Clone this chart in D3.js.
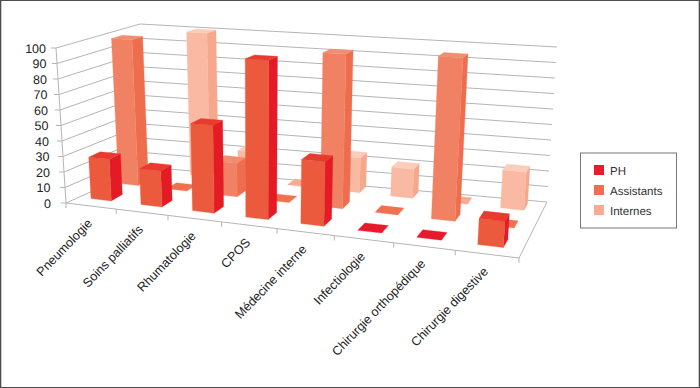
<!DOCTYPE html>
<html lang="en">
<head>
  <meta charset="UTF-8">
  <title>Répartition par service</title>
  <style>
    html, body { margin: 0; padding: 0; background: #fff; }
    svg { display: block; font-family: "Liberation Sans", sans-serif; text-rendering: geometricPrecision; }
  </style>
</head>
<body>
<div id="chart"></div>
<script src="https://d3js.org/d3.v7.min.js"></script>
<script>
  const categories = ['Pneumologie', 'Soins palliatifs', 'Rhumatologie', 'CPOS', 'Médecine interne', 'Infectiologie', 'Chirurgie orthopédique', 'Chirurgie digestive'];
  const seriesNames = ['PH', 'Assistants', 'Internes'];
  const ph = [27, 23, 55, 98, 39, 0, 0, 15];
  const assistants = [99, 0, 22, 0, 98, 0, 100, 0];
  const internes = [0, 100, 20, 0, 23, 19, 0, 24];
  const yTicks = [0, 10, 20, 30, 40, 50, 60, 70, 80, 90, 100];

  const width = 700, height = 388;

  // faces: front, side, top, flat (value 0)
  const colors = {
    PH: ['#eb5a3d', '#e41b25', '#e93a2f', '#e61a2b'],
    Assistants: ['#f08263', '#ee6d4f', '#f18d70', '#f0714f'],
    Internes: ['#f9b9a2', '#f6a78c', '#fbcdbb', '#f8ab92']
  };
  const legendColors = ['#e81d2b', '#ef6f51', '#f8ab92'];

  // corners of the box in the picture: front left, front right, back right, back left
  // (back left of the bars' floor sits a bit higher than the drawn wall, it gives the right spacing)
  const floorQuad = [[66, 203], [519, 258], [547, 202], [146, 160]];
  const topQuad = [[56, 48], [530, 78], [557, 47], [140, 24]];
  const wallBackLeft = [146, 167];

  function quadMap(q) {
    const [[x0, y0], [x1, y1], [x2, y2], [x3, y3]] = q;
    const dx1 = x1 - x2, dx2 = x3 - x2, sx = x0 - x1 + x2 - x3;
    const dy1 = y1 - y2, dy2 = y3 - y2, sy = y0 - y1 + y2 - y3;
    const den = dx1 * dy2 - dx2 * dy1;
    const g = (sx * dy2 - dx2 * sy) / den;
    const h = (dx1 * sy - sx * dy1) / den;
    const a = x1 - x0 + g * x1, b = x3 - x0 + h * x3;
    const d = y1 - y0 + g * y1, e = y3 - y0 + h * y3;
    return (u, v) => {
      const w = g * u + h * v + 1;
      return [(a * u + b * v + x0) / w, (d * u + e * v + y0) / w];
    };
  }
  const onFloor = quadMap(floorQuad);
  const onTop = quadMap(topQuad);

  const uScale = d3.scaleBand().domain(categories).range([0, 1]);
  const vScale = d3.scaleBand().domain(seriesNames).range([0, 1]);
  const hScale = d3.scaleLinear().domain([0, 100]).range([0, 1]);
  const labelGap = d3.scaleLinear().domain([0, 100]).range([15, 10]);

  function lerp(a, b, k) {
    return [a[0] + (b[0] - a[0]) * k, a[1] + (b[1] - a[1]) * k];
  }
  function project(u, v, val) {
    return lerp(onFloor(u, v), onTop(u, v), hScale(val));
  }
  function backLeft(val) {
    return lerp(wallBackLeft, topQuad[3], hScale(val));
  }

  const svg = d3.select('#chart').append('svg')
    .attr('width', width)
    .attr('height', height);

  svg.append('rect').attr('width', width).attr('height', height).attr('fill', '#fff');

  // picture frame
  const frame = svg.append('g').attr('fill', '#4d4d4d');
  frame.append('rect').attr('width', width).attr('height', 1);
  frame.append('rect').attr('width', 1.3).attr('height', height);
  frame.append('rect').attr('y', 387).attr('width', width).attr('height', 1);
  frame.append('rect').attr('x', 698.7).attr('width', 1.3).attr('height', height);

  const line = d3.line();
  const grid = svg.append('g').attr('fill', 'none').attr('stroke', '#b5b5b5').attr('stroke-width', 1);

  // walls and grid
  yTicks.forEach(t => {
    grid.append('path').attr('d', line([project(0, 0, t), backLeft(t), project(1, 1, t)]));
    const p = project(0, 0, t);
    grid.append('path').attr('d', line([[p[0] - 5, p[1]], p]));
    svg.append('text')
      .attr('x', p[0] - labelGap(t))
      .attr('y', p[1] + 4.5)
      .attr('text-anchor', 'end')
      .attr('font-size', 12.5)
      .attr('fill', '#222')
      .text(t);
  });
  grid.append('path').attr('d', line([project(0, 0, 0), project(0, 0, 100)]));
  grid.append('path').attr('d', line([project(0, 0, 0), project(1, 0, 0), project(1, 1, 0)]));

  // category ticks and rotated labels
  d3.range(categories.length + 1).forEach(i => {
    const p = project(i / categories.length, 0, 0);
    grid.append('path').attr('d', line([p, [p[0], p[1] + 5]]));
  });
  categories.forEach((c, i) => {
    const p = project(uScale(c) + uScale.bandwidth() / 2, 0, 0);
    svg.append('text')
      .attr('transform', `translate(${p[0] + 2},${p[1] + 18}) rotate(-46)`)
      .attr('text-anchor', 'end')
      .attr('font-size', 12.6)
      .attr('fill', '#222')
      .text(c);
  });

  const rows = [ph, assistants, internes];
  const bars = svg.append('g');

  function face(points, fill) {
    bars.append('path').attr('d', line(points) + 'Z').attr('fill', fill).attr('stroke', fill).attr('stroke-width', 0.3);
  }

  // painter's order: back row first
  d3.range(rows.length - 1, -1, -1).forEach(r => {
    const name = seriesNames[r];
    const c = colors[name];
    categories.forEach((cat, i) => {
      const val = rows[r][i];
      const u0 = uScale(cat) + uScale.bandwidth() * 0.28, u1 = u0 + uScale.bandwidth() * 0.41;
      const v0 = vScale(name) + vScale.bandwidth() * 0.38, v1 = v0 + vScale.bandwidth() * 0.4;
      if (val === 0) {
        face([project(u0, v0, 0), project(u1, v0, 0), project(u1, v1, 0), project(u0, v1, 0)], c[3]);
        return;
      }
      face([project(u1, v0, 0), project(u1, v1, 0), project(u1, v1, val), project(u1, v0, val)], c[1]);
      face([project(u0, v0, 0), project(u1, v0, 0), project(u1, v0, val), project(u0, v0, val)], c[0]);
      face([project(u0, v0, val), project(u1, v0, val), project(u1, v1, val), project(u0, v1, val)], c[2]);
    });
  });

  // legend
  const legend = svg.append('g');
  legend.append('rect')
    .attr('x', 580.5).attr('y', 153).attr('width', 96).attr('height', 75)
    .attr('fill', '#fff').attr('stroke', '#777').attr('stroke-width', 1);
  seriesNames.forEach((s, i) => {
    legend.append('rect')
      .attr('x', 594).attr('y', 165 + i * 20).attr('width', 10).attr('height', 10)
      .attr('fill', legendColors[i]);
    legend.append('text')
      .attr('x', 610).attr('y', 174.5 + i * 20)
      .attr('font-size', 11.5).attr('fill', '#333')
      .text(s);
  });
</script>
</body>
</html>
